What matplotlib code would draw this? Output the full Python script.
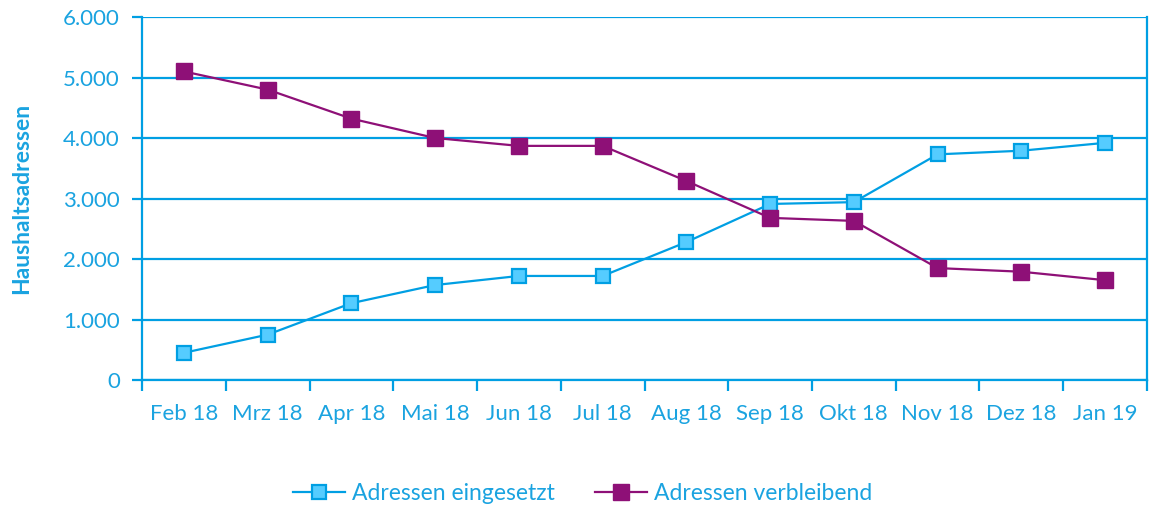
import numpy as np
import matplotlib
matplotlib.use('Agg')
import matplotlib.pyplot as plt

# === data ===
months = ['Feb 18', 'Mrz 18', 'Apr 18', 'Mai 18', 'Jun 18', 'Jul 18',
          'Aug 18', 'Sep 18', 'Okt 18', 'Nov 18', 'Dez 18', 'Jan 19']
eingesetzt = [450, 750, 1270, 1570, 1720, 1720, 2280, 2910, 2940, 3730, 3790, 3920]
verbleibend = [5100, 4800, 4320, 4000, 3870, 3870, 3290, 2680, 2630, 1850, 1790, 1650]
y_ticks = [0, 1000, 2000, 3000, 4000, 5000, 6000]

blue = '#009FE3'
light_blue = '#55CCFF'
purple = '#8E1077'
text_col = '#1AA3E0'

plt.rcParams['font.family'] = ['Lato', 'DejaVu Sans']

fig = plt.figure(figsize=(11.51, 5.09), dpi=100)
ax = fig.add_axes([0.1234, 0.2534, 0.8731, 0.7132])

x = np.arange(len(months))
ax.plot(x, eingesetzt, color=blue, lw=1.6, marker='s', ms=10,
        mfc=light_blue, mec=blue, mew=1.6, label='Adressen eingesetzt', zorder=3)
ax.plot(x, verbleibend, color=purple, lw=1.6, marker='s', ms=12,
        mfc=purple, mec=purple, label='Adressen verbleibend', zorder=3)

ax.set_xlim(-0.5, len(months) - 0.5)
ax.set_ylim(0, 6000)
ax.set_yticks(y_ticks)
ax.set_yticklabels([f'{v:,}'.replace(',', '.') for v in y_ticks])
ax.yaxis.grid(True, color=blue, lw=1.6)
ax.set_axisbelow(True)

# category labels centred, tick marks on the boundaries
ax.set_xticks(x)
ax.set_xticklabels(months)
ax.set_xticks(np.arange(-0.5, len(months)), minor=True)
ax.tick_params(axis='x', which='major', length=0, pad=17, labelsize=16, labelcolor=text_col)
ax.tick_params(axis='x', which='minor', length=8, width=1.6, color=blue)
ax.tick_params(axis='y', length=7, width=1.6, color=blue, labelsize=16, labelcolor=text_col, pad=9)

for s in ax.spines.values():
    s.set_color(blue)
    s.set_linewidth(1.6)
ax.spines['top'].set_visible(False)

ax.set_ylabel('Haushaltsadressen', fontsize=16.5, fontweight='bold', color=text_col, labelpad=22)

leg = fig.legend(loc='center', bbox_to_anchor=(0.506, 0.031), ncol=2, frameon=False,
                 fontsize=16.5, handlelength=2.27, columnspacing=1.75, handletextpad=0.3)
for t in leg.get_texts():
    t.set_color(text_col)

fig.savefig('out.png', dpi=100)
